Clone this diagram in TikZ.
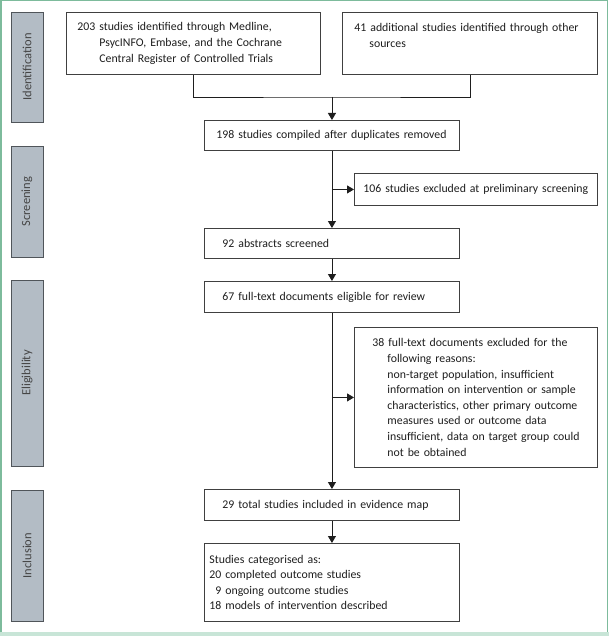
\documentclass[tikz,border=0pt]{standalone}
\usepackage{fontspec}
\setmainfont{Carlito}
\usetikzlibrary{arrows.meta,positioning}
\definecolor{frame}{HTML}{7DBB9C}
\definecolor{band}{HTML}{C8E5D7}
\definecolor{sidefill}{HTML}{B3BCC5}
\definecolor{sidedraw}{HTML}{50555A}
\definecolor{sidetext}{HTML}{454545}
\definecolor{boxdraw}{HTML}{404040}
\definecolor{ink}{HTML}{1E1E1E}
\newcommand{\fl}[1]{\mbox{#1}}
\newcommand{\hg}[1]{\mbox{\hspace*{15pt}#1}}
\tikzset{
  box/.style={draw=boxdraw, line width=0.9pt, fill=white, anchor=north west, inner sep=0pt,
    font=\fontsize{11.8}{15.6}\selectfont, text=ink},
  sidelab/.style={draw=sidedraw, line width=0.9pt, fill=sidefill, rotate=90, minimum height=32pt,
    inner sep=0pt, font=\fontsize{12.5}{14}\selectfont, text=sidetext},
  conn/.style={draw=ink, line width=0.9pt},
  arr/.style={conn, -{Triangle[width=8pt,length=7pt]}},
}
\begin{document}
\begin{tikzpicture}[x=1pt,y=-1pt]
\useasboundingbox (0,0) rectangle (609,636);
% outer frame
\fill[band] (0,632) rectangle (609,636);
\draw[frame, line width=1.5pt] (0.75,632) -- (0.75,0.75) -- (607.5,0.75) -- (607.5,632);

% side labels
\node[sidelab, minimum width=110pt] (sid) at (27,67) {Identification};
\node[sidelab, minimum width=111pt] (sscr) at (27,201.5) {Screening};
\node[sidelab, minimum width=186pt] (selig) at (27,373) {Eligibility};
\node[sidelab, minimum width=131pt] (sinc) at (27,555.5) {Inclusion};

% boxes
\node[box, minimum width=254pt, minimum height=62pt, text width=232pt, align=left] (b1) at (66,12)
  {\fl{203 studies identified through Medline,}\\\mbox{\hspace*{22pt}PsycINFO, Embase, and the Cochrane}\\\mbox{\hspace*{22pt}Central Register of Controlled Trials}};
\node[box, minimum width=255pt, minimum height=62pt, text width=231pt, align=left] (b2) at (342,12)
  {\fl{41 additional studies identified through other}\\\hg{sources}\\\mbox{}};
\node[box, minimum width=255pt, minimum height=30pt, text width=231pt, align=left] (b3) at (204,120)
  {\fl{198 studies compiled after duplicates removed}};
\node[box, minimum width=243pt, minimum height=32pt, text width=225pt, align=left] (b5) at (354,173)
  {\fl{106 studies excluded at preliminary screening}};
\node[box, minimum width=255pt, minimum height=30pt, text width=219pt, align=left] (b4) at (204,228)
  {\fl{92 abstracts screened}};
\node[box, minimum width=255pt, minimum height=31pt, text width=219pt, align=left] (b6) at (204,281)
  {\fl{67 full-text documents eligible for review}};
\node[box, minimum width=243pt, minimum height=140pt, text width=207pt, align=left] (b7) at (354,327)
  {\fl{38 full-text documents excluded for the}\\
   \hg{following reasons:}\\
   \hg{non-target population, insufficient}\\
   \hg{information on intervention or sample}\\
   \hg{characteristics, other primary outcome}\\
   \hg{measures used or outcome data}\\
   \hg{insufficient, data on target group could}\\
   \hg{not be obtained}};
\node[box, minimum width=255pt, minimum height=31pt, text width=219pt, align=left] (b8) at (204,489)
  {\fl{29 total studies included in evidence map}};
\node[box, minimum width=255pt, minimum height=78pt, text width=245pt, align=left] (b9) at (204,543)
  {\fl{Studies categorised as:}\\\fl{20 completed outcome studies}\\\fl{\phantom{2}9 ongoing outcome studies}\\\fl{18 models of intervention described}};

% connectors
\coordinate (m) at (b3.north |- 0,97);
\draw[conn] (b1.south) |- (m) -| (b2.south);
\draw[arr] (m) -- (b3.north);
\draw[arr] (b3.south) -- (b4.north);
\draw[arr] (b3.south |- b5.west) -- (b5.west);
\draw[arr] (b4.south) -- (b6.north);
\draw[arr] (b6.south) -- (b8.north);
\draw[arr] (b6.south |- b7.west) -- (b7.west);
\draw[arr] (b8.south) -- (b9.north);
\end{tikzpicture}
\end{document}
